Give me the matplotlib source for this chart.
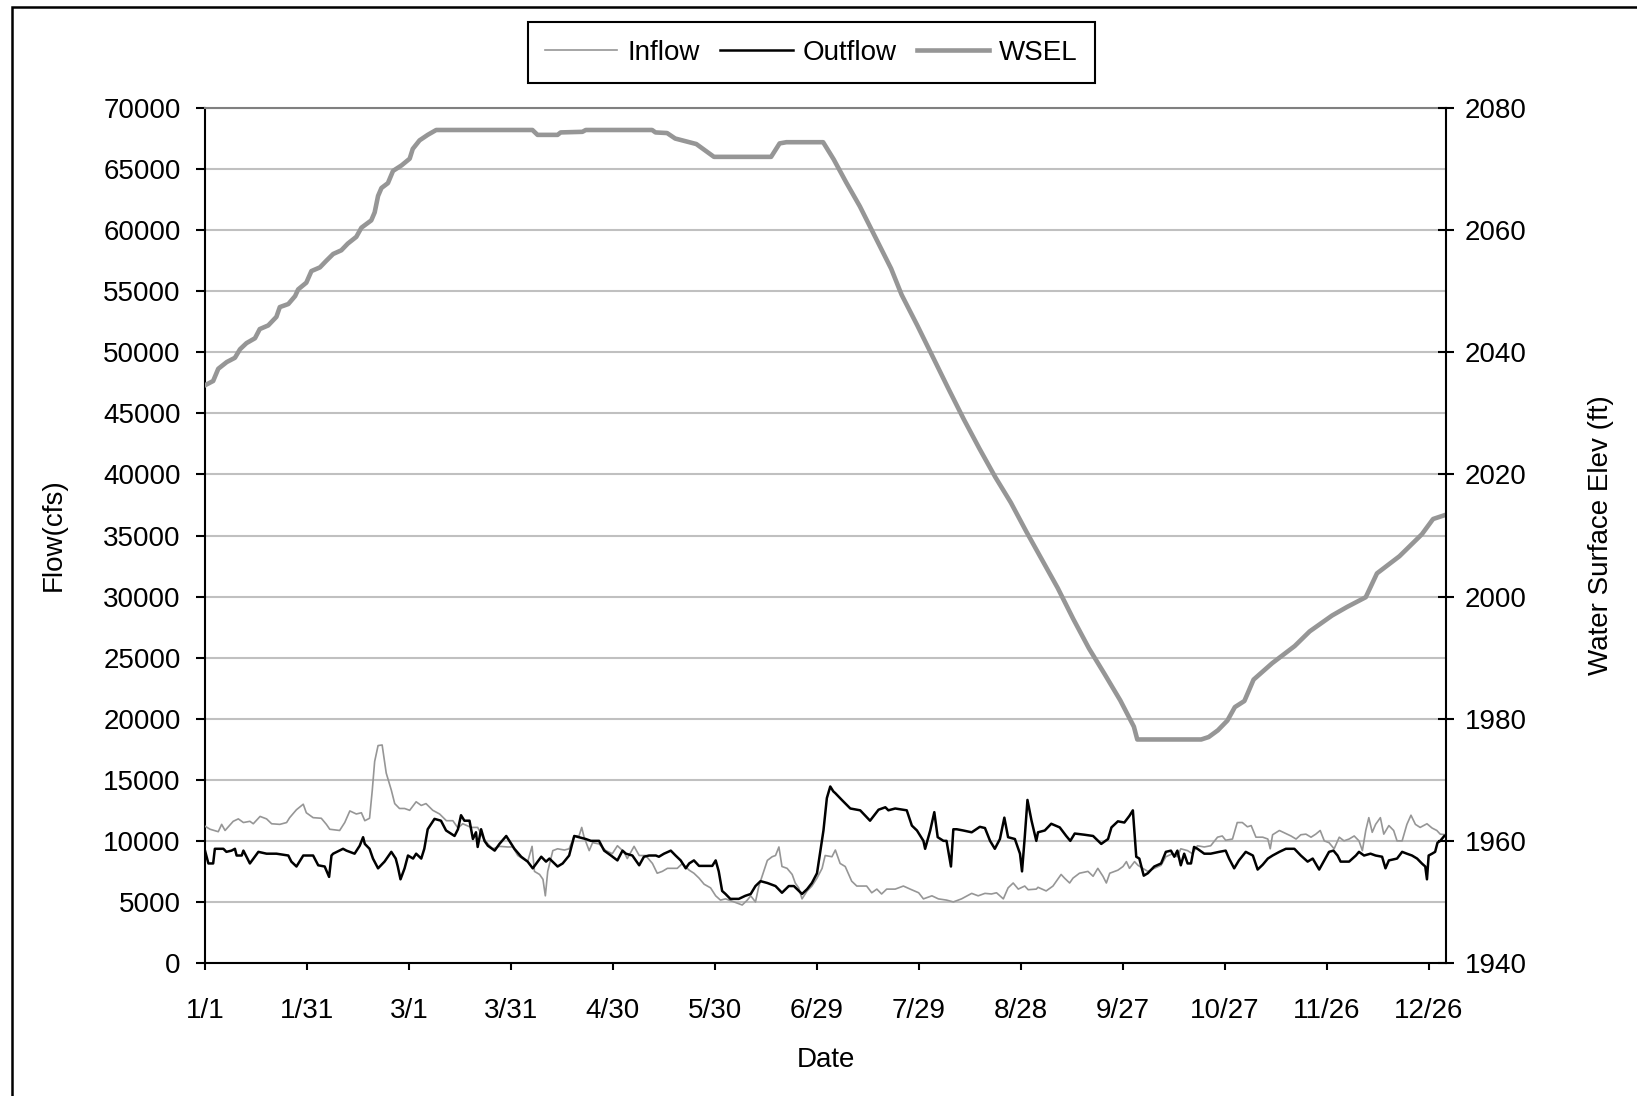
import numpy as np
import pandas as pd
import matplotlib
matplotlib.use("Agg")
import matplotlib.pyplot as plt
from matplotlib.patches import Rectangle
from matplotlib.lines import Line2D

plt.rcParams["font.family"] = ["Liberation Sans", "DejaVu Sans"]

# ---- data, days counted from 1/1 of a leap year ----
YEAR = 2004
tick_labels = ["1/1", "1/31", "3/1", "3/31", "4/30", "5/30", "6/29",
               "7/29", "8/28", "9/27", "10/27", "11/26", "12/26"]

inflow_day = [0, 1.5, 3.9, 4.9, 5.9, 8.3, 9.8, 11.3, 13.2, 14.2, 16.2, 18.1, 19.6, 22, 24,
              24.9, 26.9, 28.9, 29.8, 31.8, 34.2, 35.7, 36.7, 39.6, 41.1, 42.6, 44.5, 46, 47,
              48.4, 49.2, 49.9, 50.9, 52.1, 53.3, 54.8, 55.8, 57.2, 58.7, 60.2, 62.1, 63.6, 65,
              67, 69, 71, 72.9, 74.4, 75.8, 78.3, 80.2, 81.7, 83.2, 84.6, 86.6, 89, 90.5, 92,
              93.4, 94.9, 96.2, 96.9, 98.4, 99.4, 100.1, 100.8, 102.3, 103.7, 105.7, 107.1,
              108.6, 110, 110.8, 111.5, 113, 114, 115.9, 117.9, 119.8, 121.3, 123.2, 124.2,
              126.2, 127.7, 129.6, 131.6, 133, 134.5, 136, 138.9, 140.4, 142.4, 143.8, 145.3,
              146.8, 148.7, 150.2, 151.6, 153.1, 155.6, 158, 159.5, 160.5, 161.9, 162.9, 165.4,
              166.8, 167.8, 168.8, 169.7, 171.2, 172.7, 173.6, 174.6, 175.6, 177.1, 178.5, 180,
              181.5, 182.4, 184.4, 185.4, 186.8, 188.3, 190.2, 191.7, 194.6, 196.1, 197.6, 199,
              200.5, 203, 205.4, 207.4, 209.9, 211.3, 213.8, 215.7, 218.1, 220.1, 222.5, 225.5,
              227.4, 229.4, 231.3, 232.8, 234.8, 236.2, 237.7, 239.2, 241.1, 242.1, 244.5, 245,
              247.4, 249.4, 250.4, 251.8, 252.8, 254.3, 255.3, 257.2, 259.7, 261.2, 262.6, 264.1,
              265.1, 266.1, 268.5, 270, 271, 271.9, 273.4, 274.4, 275.8, 277.3, 279.2, 281.2,
              282.6, 284.6, 286, 287, 289, 290.4, 291.9, 293.9, 295.8, 297.8, 299.2, 300.2,
              302.2, 303.6, 305.1, 306.6, 307.7, 309.1, 311.1, 312.6, 313.3, 314, 316, 317.9,
              319.4, 320.9, 322.3, 323.8, 325.3, 326.7, 328, 329.2, 330.6, 332.1, 333.6, 335,
              336.5, 338, 339.4, 340.4, 341.4, 342.3, 343.3, 344.3, 345.7, 346.7, 348.2, 349.6,
              350.6, 352.1, 353.5, 354.7, 356, 357.4, 359.4, 360.9, 362.3, 363.3, 365]
inflow_cfs = [11200, 10950, 10750, 11350, 10850, 11600, 11800, 11500, 11600, 11400, 12000,
              11800, 11400, 11350, 11500, 11900, 12550, 13000, 12300, 11900, 11850, 11350,
              10950, 10850, 11500, 12450, 12200, 12300, 11650, 11850, 14150, 16500, 17800,
              17850, 15550, 14150, 13050, 12650, 12650, 12500, 13200, 12900, 13050, 12500,
              12200, 11650, 11650, 11050, 11400, 11100, 11100, 10300, 9750, 9350, 9550, 9500,
              9500, 8800, 8550, 8300, 9550, 7500, 7250, 6850, 5500, 7500, 9200, 9350, 9250,
              9350, 10400, 10400, 11100, 10300, 9200, 9850, 9750, 9200, 8950, 9600, 9100, 8550,
              9550, 8800, 8800, 8150, 7350, 7500, 7750, 7750, 8150, 7600, 7350, 6950, 6450,
              6150, 5500, 5150, 5250, 5000, 4750, 5150, 5500, 5000, 6300, 8400, 8700, 8800,
              9500, 7900, 7750, 7250, 6550, 6150, 5250, 5900, 6300, 6950, 7750, 8800, 8700,
              9250, 8150, 7900, 6700, 6300, 6300, 5750, 6050, 5650, 6050, 6050, 6300, 6050,
              5750, 5250, 5500, 5250, 5150, 5000, 5250, 5700, 5500, 5700, 5650, 5750, 5250,
              6150, 6550, 6050, 6300, 6000, 6050, 6200, 5900, 6300, 6700, 7250, 6950, 6550,
              6950, 7350, 7500, 7100, 7750, 7100, 6550, 7350, 7600, 7900, 8300, 7750, 8300,
              8000, 7750, 7500, 7750, 8000, 8700, 8950, 8700, 9350, 9200, 8950, 9600, 9500,
              9600, 10300, 10400, 10050, 10150, 11500, 11500, 11150, 11250, 10300, 10300,
              10150, 9350, 10500, 10850, 10600, 10400, 10150, 10500, 10550, 10300, 10550,
              10850, 10000, 9850, 9350, 10300, 10000, 10150, 10400, 10000, 9200, 10850, 11900,
              10700, 11350, 11900, 10550, 11250, 10850, 10000, 10000, 11350, 12100, 11350,
              11100, 11400, 11050, 10850, 10550, 10500]

outflow_day = [0, 1, 2.4, 2.9, 5.4, 6.3, 7.8, 8.8, 9.3, 10.8, 11.3, 13.2, 15.7, 18.1, 21,
               24.5, 25.4, 26.9, 28.9, 31.8, 33.3, 35.2, 36.5, 37.2, 37.7, 40.6, 41.6, 44,
               45.5, 46.5, 47, 48.4, 49.4, 50.9, 52.8, 54.8, 56.1, 56.7, 57.5, 58.7, 59.7, 61.2,
               62.1, 63.6, 64.5, 65.5, 67.5, 69.4, 70.9, 73.4, 74.4, 75.3, 76.3, 77.8, 78.8,
               79.7, 80.2, 81.2, 82.2, 83.2, 85.2, 86.6, 88.6, 91, 93, 94.9, 96.4, 98.9, 100.3,
               101.3, 103.7, 105.2, 107.1, 108.6, 110, 112, 113.5, 115.9, 117.4, 119.4, 121.3,
               122.8, 123.8, 125.7, 127.7, 129.1, 130.6, 132.6, 133.5, 135, 137, 138.4, 139.9,
               141.4, 142.4, 143.8, 145.3, 149.2, 150.2, 151.1, 152.1, 153.1, 154.5, 157, 158.9,
               160.5, 161.9, 163.4, 165.4, 167.8, 169.7, 171.7, 173.2, 175.6, 177.1, 178.5, 180,
               181, 181.9, 182.9, 183.9, 184.8, 185.4, 187.3, 189.8, 192.7, 195.6, 198.1, 200.1,
               201, 203, 206.4, 207.9, 209.4, 211.3, 211.8, 213.3, 214.5, 215.5, 217.2, 218.1,
               219.4, 220.1, 221.1, 223, 225.5, 227.9, 229.4, 230.9, 232.3, 233.8, 235.1, 236.2,
               238.2, 239.7, 240.3, 241.1, 241.9, 243.1, 244.5, 245, 247, 248.9, 251.4, 253.3,
               254.5, 255.8, 258.7, 261.2, 263.6, 265.6, 266.6, 268.5, 270.4, 271.9, 272.9, 273.4,
               273.9, 274.8, 276.1, 277.3, 279.2, 281.2, 282.6, 284.1, 285.1, 286, 287, 288, 289,
               290, 290.9, 291.9, 293.9, 295.8, 298.3, 300.2, 301.2, 302.7, 304.1, 306.1, 308.2,
               309.6, 311.1, 312.6, 314, 316, 317.9, 320.4, 322.3, 324.3, 325.8, 327.7, 329.2,
               330.6, 331.9, 333.1, 334, 336.5, 338.5, 339.4, 340.9, 342.8, 344.3, 346.2, 347.2,
               348.2, 350.6, 352.1, 353.5, 355, 356.5, 357.9, 358.9, 359.4, 359.9, 360.9, 361.8,
               362.5, 363.3, 364.5]
outflow_cfs = [9200, 8150, 8150, 9350, 9350, 9100, 9200, 9350, 8800, 8800, 9200, 8150, 9100,
               8950, 8950, 8800, 8300, 7900, 8800, 8800, 8000, 7900, 7050, 8800, 8950, 9350,
               9200, 8950, 9600, 10300, 9750, 9350, 8550, 7750, 8300, 9100, 8550, 7900, 6850,
               7750, 8800, 8550, 8950, 8550, 9350, 10950, 11800, 11650, 10850, 10400, 10950,
               12100, 11650, 11650, 10150, 10700, 9500, 10950, 10000, 9600, 9200, 9750, 10400,
               9350, 8700, 8300, 7750, 8700, 8300, 8550, 7900, 8150, 8800, 10400, 10300, 10150,
               10000, 10000, 9200, 8800, 8400, 9200, 8950, 8800, 8000, 8700, 8800, 8800, 8700,
               8950, 9200, 8800, 8400, 7750, 8150, 8400, 7950, 7950, 8400, 7500, 5900, 5650,
               5250, 5250, 5500, 5650, 6300, 6700, 6550, 6300, 5750, 6300, 6300, 5650, 6050,
               6550, 7350, 9200, 10850, 13500, 14450, 14050, 13900, 13350, 12650, 12500, 11650,
               12550, 12750, 12500, 12650, 12500, 11250, 10850, 10000, 9350, 10850, 12350,
               10300, 10000, 10000, 7900, 10950, 10950, 10850, 10700, 11150, 11050, 10000, 9350,
               10150, 11900, 10300, 10150, 8950, 7500, 10300, 13350, 11650, 10000, 10700, 10850,
               11400, 11100, 10400, 10000, 10600, 10500, 10400, 9750, 10150, 11100, 11600,
               11500, 12050, 12500, 10550, 8700, 8550, 7150, 7350, 7900, 8150, 9100, 9200, 8700,
               9200, 8000, 8950, 8150, 8150, 9500, 9350, 8950, 8950, 9100, 9200, 8550, 7750,
               8400, 9100, 8800, 7650, 8050, 8550, 8800, 9100, 9350, 9350, 8800, 8300, 8550,
               7650, 8400, 9100, 9200, 8800, 8300, 8300, 8800, 9100, 8800, 8950, 8800, 8700,
               7750, 8400, 8550, 9100, 8950, 8800, 8550, 8150, 7900, 6850, 8800, 8950, 9100,
               9850, 10000, 10400]

wsel_day = [0, 2.4, 3.9, 6.4, 8.8, 10.3, 12.2, 14.7, 16.1, 18.6, 21, 22, 24.5, 26.5, 27.4,
            29.8, 31.3, 33.8, 35.7, 37.7, 40.1, 42, 44.5, 46, 48.9, 49.9, 50.9, 51.9, 53.8,
            55.3, 57.8, 60.2, 61.1, 63.1, 65.5, 68, 96.3, 97.8, 103.7, 104.6, 111, 112, 131.5,
            132.5, 135.9, 138.3, 144.5, 149.7, 166.5, 169, 171, 181.8, 184.9, 188.6, 192.6,
            197.2, 201.8, 204.9, 209.5, 214.1, 218.6, 223.2, 227.8, 232.4, 237, 241.6, 246.2,
            250.8, 255.4, 260, 264.6, 269.2, 273.2, 274.2, 293, 295.2, 297.9, 300.7, 302.9,
            305.7, 308.4, 313.9, 320.5, 324.9, 331.5, 335.9, 341.4, 344.7, 351.3, 357.9, 361.2,
            363.9, 365]
wsel_ft = [2034.6, 2035.3, 2037.3, 2038.4, 2039.1, 2040.5, 2041.5, 2042.3, 2043.8, 2044.4,
           2045.8, 2047.4, 2047.9, 2049.2, 2050.3, 2051.4, 2053.3, 2053.9, 2055.0, 2056.1,
           2056.7, 2057.8, 2058.9, 2060.4, 2061.6, 2062.9, 2065.6, 2066.9, 2067.7, 2069.7,
           2070.6, 2071.7, 2073.3, 2074.7, 2075.6, 2076.4, 2076.4, 2075.6, 2075.6, 2076.0,
           2076.1, 2076.4, 2076.4, 2076.0, 2075.9, 2075.0, 2074.1, 2072.0, 2072.0, 2074.2,
           2074.4, 2074.4, 2071.6, 2067.8, 2063.9, 2058.8, 2053.7, 2049.4, 2044.4, 2039.2,
           2034.1, 2029.0, 2024.2, 2019.6, 2015.4, 2010.6, 2006.0, 2001.4, 1996.3, 1991.5,
           1987.3, 1983.0, 1978.7, 1976.6, 1976.6, 1977.0, 1978.1, 1979.7, 1981.9, 1982.9,
           1986.4, 1989.1, 1991.9, 1994.3, 1996.9, 1998.3, 1999.9, 2003.8, 2006.6, 2010.2,
           2012.7, 2013.2, 2013.4]

# ---- layout ----
W, H, DPI = 1637, 1096, 100
GRAY = "#969696"
FS = 20

fig = plt.figure(figsize=(W / DPI, H / DPI), dpi=DPI, facecolor="white")
ax = fig.add_axes([205 / W, 1 - 963 / H, (1446 - 205) / W, (963 - 108) / H])
ax2 = ax.twinx()

ax.plot(inflow_day, inflow_cfs, color=GRAY, lw=1.2, zorder=3)
ax.plot(outflow_day, outflow_cfs, color="black", lw=1.8, zorder=4)
ax2.plot(wsel_day, wsel_ft, color=GRAY, lw=3.3)

start = pd.Timestamp(f"{YEAR}-01-01")
tick_pos = [(pd.Timestamp(f"{YEAR}/{t}") - start).days for t in tick_labels]

ax.set_xlim(0, 365)
ax.set_ylim(0, 70000)
ax2.set_ylim(1940, 2080)
ax.set_xticks(tick_pos)
ax.set_xticklabels(tick_labels)
ax.set_yticks(np.arange(0, 70001, 5000))
ax2.set_yticks(np.arange(1940, 2081, 20))

ax.yaxis.grid(True, color="#c0c0c0", lw=1.5)
ax.set_axisbelow(True)

for a in (ax, ax2):
    for s in a.spines.values():
        s.set_linewidth(1.5)
        s.set_color("black")
ax.spines["right"].set_visible(False)
ax.spines["top"].set_color("#808080")
ax2.spines["left"].set_visible(False)
ax2.spines["bottom"].set_visible(False)
ax2.spines["top"].set_visible(False)

ax.tick_params(axis="y", direction="out", length=6.5, width=1.5, pad=11, labelsize=FS)
ax.tick_params(axis="x", direction="out", length=5, width=1.5, pad=20, labelsize=FS)
ax2.tick_params(axis="y", direction="inout", length=11, width=1.5, pad=8, labelsize=FS)

fig.text(54 / W, 1 - 535 / H, "Flow(cfs)", rotation=90, ha="center", va="center", fontsize=FS)
fig.text(1601 / W, 1 - 535 / H, "Water Surface Elev (ft)", rotation=90,
         ha="center", va="center", fontsize=FS)
fig.text((205 + 1446) / 2 / W, 1 - 1060 / H, "Date", ha="center", va="center", fontsize=FS)

handles = [Line2D([], [], color=GRAY, lw=1.2),
           Line2D([], [], color="black", lw=1.8),
           Line2D([], [], color=GRAY, lw=3.3)]
leg = fig.legend(handles, ["Inflow", "Outflow", "WSEL"], ncol=3, loc="center",
                 bbox_to_anchor=(811.5 / W, 1 - 52.7 / H), bbox_transform=fig.transFigure,
                 fontsize=FS, frameon=True, fancybox=False, framealpha=1,
                 edgecolor="black", handlelength=2.6, handletextpad=0.35,
                 columnspacing=0.75, borderpad=0.62, borderaxespad=0)
leg.get_frame().set_linewidth(1.5)

# chart-area border (cropped on the right and bottom)
fig.patches.append(Rectangle((12 / W, -0.2), 1.5, 1.2 - 7 / H, transform=fig.transFigure,
                             fill=False, ec="black", lw=1.8, clip_on=False))

fig.savefig("out.png", dpi=DPI, facecolor="white")
